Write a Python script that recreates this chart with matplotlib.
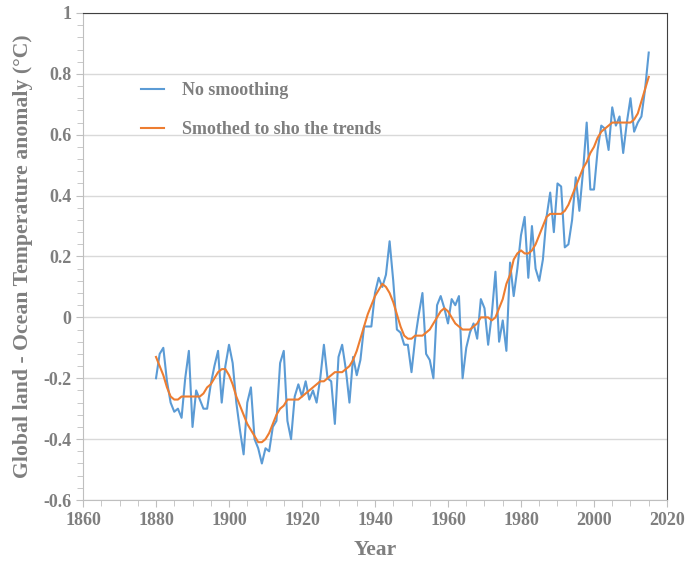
"""
Global land-ocean temperature anomaly, raw and smoothed.
"""

import matplotlib.pyplot as plt
from matplotlib.ticker import MultipleLocator

years = list(range(1880, 2016))

# annual anomaly (deg C)
raw = [
    -0.20, -0.12, -0.10, -0.21, -0.28, -0.31, -0.30, -0.33, -0.20, -0.11,
    -0.36, -0.24, -0.27, -0.30, -0.30, -0.22, -0.16, -0.11, -0.28, -0.16,
    -0.09, -0.15, -0.28, -0.37, -0.45, -0.28, -0.23, -0.40, -0.43, -0.48,
    -0.43, -0.44, -0.36, -0.34, -0.15, -0.11, -0.34, -0.40, -0.26, -0.22,
    -0.26, -0.21, -0.27, -0.24, -0.28, -0.20, -0.09, -0.20, -0.21, -0.35,
    -0.13, -0.09, -0.17, -0.28, -0.13, -0.19, -0.14, -0.03, -0.03, -0.03,
    0.08, 0.13, 0.10, 0.14, 0.25, 0.12, -0.04, -0.05, -0.09, -0.09,
    -0.18, -0.07, 0.01, 0.08, -0.12, -0.14, -0.20, 0.04, 0.07, 0.03,
    -0.02, 0.06, 0.04, 0.07, -0.20, -0.10, -0.05, -0.02, -0.07, 0.06,
    0.03, -0.09, 0.01, 0.15, -0.08, -0.01, -0.11, 0.18, 0.07, 0.16,
    0.27, 0.33, 0.13, 0.30, 0.16, 0.12, 0.19, 0.33, 0.41, 0.28,
    0.44, 0.43, 0.23, 0.24, 0.32, 0.46, 0.35, 0.48, 0.64, 0.42,
    0.42, 0.55, 0.63, 0.62, 0.55, 0.69, 0.63, 0.66, 0.54, 0.64,
    0.72, 0.61, 0.64, 0.66, 0.75, 0.87,
]

# lowess smoothed
smooth = [
    -0.13, -0.16, -0.19, -0.23, -0.26, -0.27, -0.27, -0.26, -0.26, -0.26,
    -0.26, -0.26, -0.26, -0.25, -0.23, -0.22, -0.20, -0.18, -0.17, -0.17,
    -0.19, -0.22, -0.26, -0.29, -0.32, -0.35, -0.37, -0.39, -0.41, -0.41,
    -0.40, -0.38, -0.35, -0.32, -0.30, -0.29, -0.27, -0.27, -0.27, -0.27,
    -0.26, -0.25, -0.24, -0.23, -0.22, -0.21, -0.21, -0.20, -0.19, -0.18,
    -0.18, -0.18, -0.17, -0.16, -0.14, -0.11, -0.07, -0.03, 0.01, 0.04,
    0.07, 0.09, 0.11, 0.10, 0.08, 0.05, 0.01, -0.03, -0.06, -0.07,
    -0.07, -0.06, -0.06, -0.06, -0.05, -0.04, -0.02, 0.00, 0.02, 0.03,
    0.02, 0.00, -0.02, -0.03, -0.04, -0.04, -0.04, -0.03, -0.02, 0.00,
    0.00, 0.00, -0.01, 0.00, 0.03, 0.06, 0.11, 0.14, 0.19, 0.21,
    0.22, 0.21, 0.21, 0.22, 0.24, 0.27, 0.30, 0.33, 0.34, 0.34,
    0.34, 0.34, 0.35, 0.37, 0.40, 0.43, 0.46, 0.49, 0.51, 0.54,
    0.56, 0.59, 0.61, 0.62, 0.63, 0.64, 0.64, 0.64, 0.64, 0.64,
    0.64, 0.65, 0.67, 0.71, 0.75, 0.79,
]

grey = "#7f7f7f"
plt.rcParams["font.family"] = ["Liberation Serif", "DejaVu Serif"]
plt.rcParams["font.weight"] = "bold"

fig = plt.figure(figsize=(6.85, 5.62), dpi=100)
ax = fig.add_axes([0.1212, 0.1103, 0.8525, 0.8666])

ax.plot(years, raw, color="#5b9bd5", lw=1.5, label="No smoothing")
ax.plot(years, smooth, color="#ed7d31", lw=1.5, label="Smothed to sho the trends")

ax.set_xlim(1860, 2020)
ax.set_ylim(-0.6, 1.0)
ax.xaxis.set_major_locator(MultipleLocator(20))
ax.xaxis.set_minor_locator(MultipleLocator(5))
ax.yaxis.set_major_locator(MultipleLocator(0.2))
ax.yaxis.set_minor_locator(MultipleLocator(0.04))
ax.set_yticks([-0.6, -0.4, -0.2, 0, 0.2, 0.4, 0.6, 0.8, 1.0])
ax.set_yticklabels(["-0.6", "-0.4", "-0.2", "0", "0.2", "0.4", "0.6", "0.8", "1"])
ax.grid(axis="y", color="#d9d9d9", lw=1)
ax.set_axisbelow(True)

ax.tick_params(which="both", direction="out", colors="#bfbfbf", labelcolor=grey,
               labelsize=13)
ax.tick_params(which="major", length=5)
ax.tick_params(which="minor", length=4)
for s in ["left", "bottom"]:
    ax.spines[s].set_color("#bfbfbf")
for s in ["top", "right"]:
    ax.spines[s].set_color("#404040")

ax.set_xlabel("Year", color=grey, fontsize=15.5, fontweight="bold", labelpad=8)
ax.set_ylabel("Global land - Ocean Temperature anomaly (\u00b0C)", color=grey,
              fontsize=15.7, fontweight="bold", labelpad=7)

leg = ax.legend(loc="upper left", bbox_to_anchor=(0.0714, 0.891), frameon=False,
                fontsize=13, handlelength=1.28, handletextpad=1.0, labelspacing=1.2)
for t in leg.get_texts():
    t.set_color(grey)

fig.savefig("out.png", dpi=100)
